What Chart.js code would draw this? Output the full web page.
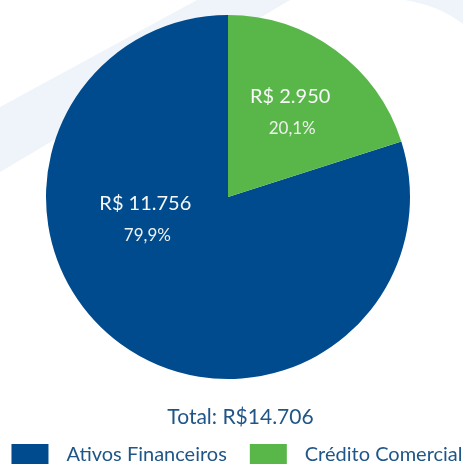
<!DOCTYPE html>
<html>
<head>
<meta charset="utf-8">
<script src="https://cdn.jsdelivr.net/npm/chart.js@4"></script>
<style>
html,body{margin:0;padding:0;background:#ffffff;}
canvas{display:block;}
</style>
</head>
<body>
<canvas id="c" width="463" height="468"></canvas>
<script>
const categories = ['Ativos Financeiros', 'Crédito Comercial'];
const values = [11756, 2950];
const valueLabels = ['R$ 11.756', 'R$ 2.950'];
const percentLabels = ['79,9%', '20,1%'];
const totalLabel = 'Total: R$14.706';
const colors = ['#004b8d', '#59b74a'];

const FONT = 'Lato, "Open Sans", sans-serif';
const total = values.reduce((a, b) => a + b, 0);
const rotation = 360 * values[1] / total;

// label placement: angle shift (deg) from slice middle, fraction of radius
const labelPlacement = [{shift: 39, frac: 0.47}, {shift: 0, frac: 0.58}];

const bgPlugin = {
  id: 'bg',
  beforeDraw(chart) {
    const ctx = chart.ctx;
    ctx.save();
    ctx.fillStyle = '#ffffff';
    ctx.fillRect(0, 0, chart.width, chart.height);
    ctx.fillStyle = '#eff4fa';
    ctx.beginPath();
    ctx.moveTo(0, 107);
    ctx.lineTo(197, 0);
    ctx.lineTo(290, 0);
    ctx.lineTo(0, 172);
    ctx.closePath();
    ctx.fill();
    ctx.beginPath();
    ctx.moveTo(405, 0);
    ctx.quadraticCurveTo(440, 6, 463, 24);
    ctx.lineTo(463, 0);
    ctx.closePath();
    ctx.fill();
    ctx.restore();
  }
};

const labelPlugin = {
  id: 'sliceLabels',
  afterDatasetsDraw(chart) {
    const ctx = chart.ctx;
    const meta = chart.getDatasetMeta(0);
    ctx.save();
    ctx.textAlign = 'center';
    ctx.textBaseline = 'middle';
    meta.data.forEach((arc, i) => {
      const p = arc.getProps(['x', 'y', 'startAngle', 'endAngle', 'outerRadius'], true);
      const mid = (p.startAngle + p.endAngle) / 2 + labelPlacement[i].shift * Math.PI / 180;
      const r = p.outerRadius * labelPlacement[i].frac;
      const cx = p.x + Math.cos(mid) * r;
      const cy = p.y + Math.sin(mid) * r;
      ctx.fillStyle = '#f6f7f6';
      ctx.font = '20px ' + FONT;
      ctx.fillText(valueLabels[i], cx, cy - 15);
      ctx.fillStyle = '#eef1ee';
      ctx.font = '17px ' + FONT;
      ctx.fillText(percentLabels[i], cx + 2, cy + 17);
    });
    ctx.restore();
  }
};

const textPlugin = {
  id: 'totalAndLegend',
  afterDraw(chart) {
    const ctx = chart.ctx;
    ctx.save();
    ctx.textBaseline = 'middle';
    // total
    ctx.fillStyle = '#1f5687';
    ctx.font = '21px ' + FONT;
    ctx.textAlign = 'center';
    ctx.fillText(totalLabel, 240.5, 417);
    // legend
    ctx.font = '20px ' + FONT;
    const boxW = 37, boxH = 20, gap = 18, itemGap = 23;
    const widths = categories.map(t => boxW + gap + ctx.measureText(t).width);
    const totalW = widths.reduce((a, b) => a + b, 0) + itemGap * (categories.length - 1);
    let x = 237 - totalW / 2;
    const yC = 454;
    ctx.textAlign = 'left';
    categories.forEach((t, i) => {
      ctx.fillStyle = colors[i];
      ctx.fillRect(x, yC - boxH / 2, boxW, boxH);
      ctx.fillStyle = '#1f5687';
      ctx.fillText(t, x + boxW + gap, yC + 1);
      x += widths[i] + itemGap;
    });
    ctx.restore();
  }
};

new Chart(document.getElementById('c'), {
  type: 'pie',
  data: {
    labels: categories,
    datasets: [{
      data: values,
      backgroundColor: colors,
      borderWidth: 0,
      hoverOffset: 0
    }]
  },
  options: {
    responsive: false,
    devicePixelRatio: 1,
    animation: false,
    rotation: rotation,
    layout: {padding: {top: 15, left: 0, right: 7, bottom: 89}},
    plugins: {
      legend: {display: false},
      tooltip: {enabled: false},
      title: {display: false}
    }
  },
  plugins: [bgPlugin, labelPlugin, textPlugin]
});
</script>
</body>
</html>
